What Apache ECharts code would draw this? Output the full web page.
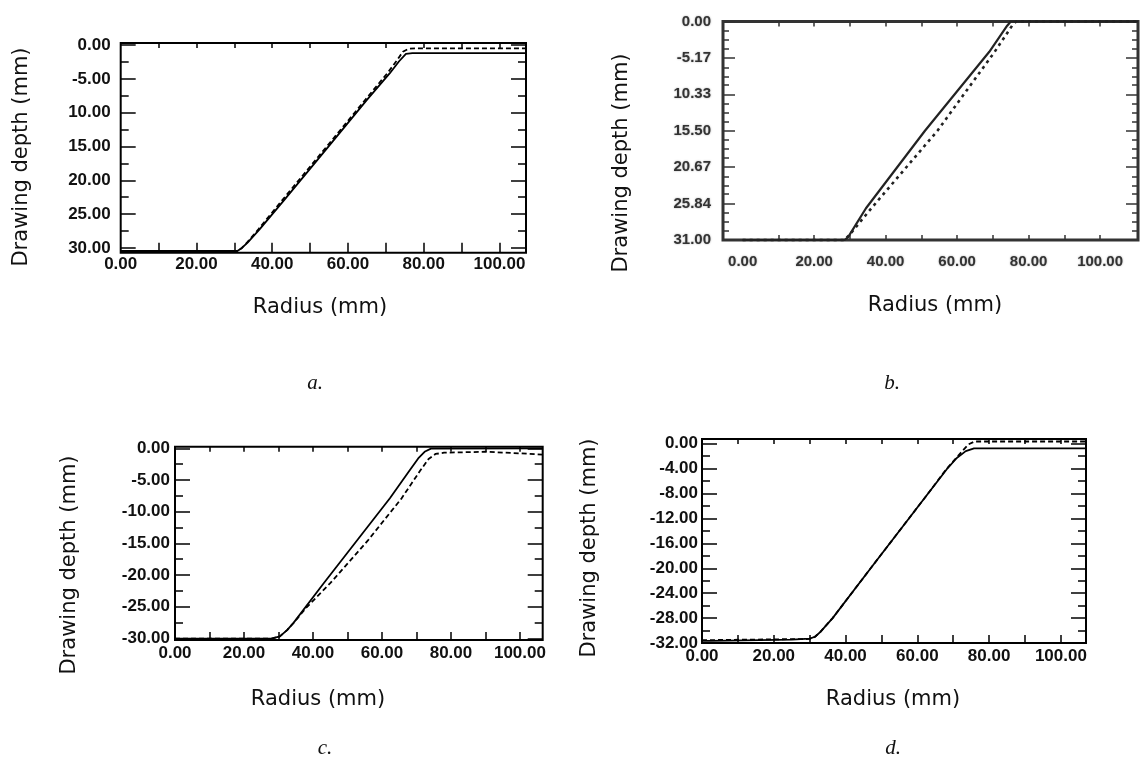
<!DOCTYPE html>
<html>
<head>
<meta charset="utf-8">
<script src="https://cdn.jsdelivr.net/npm/echarts@6/dist/echarts.min.js"></script>
<style>html,body{margin:0;padding:0;background:#fff;}#chart{width:1140px;height:760px;}</style>
</head>
<body>
<div id="chart"></div>
<script>
// ---------- data (radius mm, depth mm) ----------
var solidA  = [[0,-30.45],[30.8,-30.45],[32,-30],[33.5,-29.2],[36.6,-27.3],[43.2,-22.9],[55,-14.9],[65,-8.1],[71,-4.2],[73.5,-2.4],[75.3,-1.3],[77,-1.2],[107,-1.2]];
var dashedA = [[0,-30.55],[30.5,-30.55],[32,-30],[33.5,-29.1],[36.4,-27.2],[43,-22.7],[55,-14.6],[65,-7.8],[70.5,-4.1],[73,-2.2],[74.5,-1.0],[76,-0.55],[78,-0.5],[107,-0.5]];

var solidB  = [[0,-31],[28.5,-31],[29.5,-30.6],[34.5,-26.5],[51,-15.5],[69,-4.3],[74,-0.6],[75,0],[110.6,0]];
var dashedB = [[0,-31],[28.5,-31],[30,-30.2],[36,-26.5],[54.5,-15.5],[70.5,-4.3],[75.5,-0.5],[76.5,0],[110.6,0]];

var solidC  = [[0,-30.05],[28,-30.05],[30.4,-29.7],[32.5,-28.7],[34.3,-27.6],[43,-21.4],[52.7,-14.6],[62.3,-7.9],[68,-3.5],[70.5,-1.6],[72.5,-0.5],[74.2,-0.05],[106.6,0]];
var dashedC = [[0,-30.05],[28,-30.05],[30.4,-29.7],[32.5,-28.7],[34.5,-27.5],[38,-25.2],[45,-21.3],[56,-14.5],[65.7,-7.9],[71,-3.6],[73.5,-1.7],[75.5,-0.9],[78,-0.7],[90,-0.55],[100,-0.8],[106.6,-1.0]];

var solidD  = [[0,-31.65],[2.5,-31.65],[3,-31.45],[25,-31.45],[25.5,-31.3],[30,-31.3],[31.5,-31],[33,-30.2],[36.4,-28],[47,-20],[63,-8],[68.2,-4.1],[71,-2.3],[73.5,-1.2],[75.8,-0.75],[107,-0.75]];
var dashedD = [[0,-31.55],[30,-31.35],[31.5,-31],[33,-30.2],[36.4,-28],[47,-20],[63,-8],[67.8,-4.3],[70.5,-2.5],[72.5,-1.2],[74.3,-0.1],[76,0.35],[107,0.35]];

// ---------- tick labels ----------
var xLabelVals = [0,20,40,60,80,100];
var xTickVals  = [10,20,30,40,50,60,70,80,90,100];

var yValsA   = [0,-5,-10,-15,-20,-25,-30];
var yTextsA  = ['0.00','-5.00','10.00','15.00','20.00','25.00','30.00'];
var yMinorA  = [-2.5,-7.5,-12.5,-17.5,-22.5,-27.5];

var yValsB   = [0,-5.17,-10.33,-15.5,-20.67,-25.84,-31];
var yTextsB  = ['0.00','-5.17','10.33','15.50','20.67','25.84','31.00'];
var yMinorB  = [-1.3,-2.6,-3.9,-6.5,-7.8,-9.0,-11.6,-12.9,-14.2,-16.8,-18.1,-19.4,-22.0,-23.3,-24.5,-27.1,-28.4,-29.7];
var xTickValsB = [10,20,30,40,50,60,70,80,90,100];

var yValsC   = [0,-5,-10,-15,-20,-25,-30];
var yTextsC  = ['0.00','-5.00','-10.00','-15.00','-20.00','-25.00','-30.00'];
var yMinorC  = [-2.5,-7.5,-12.5,-17.5,-22.5,-27.5];

var yValsD   = [0,-4,-8,-12,-16,-20,-24,-28,-32];
var yTextsD  = ['0.00','-4.00','-8.00','-12.00','-16.00','-20.00','-24.00','-28.00','-32.00'];
var yMinorD  = [-2,-6,-10,-14,-18,-22,-26,-30];

var captions = ['a.','b.','c.','d.'];
var xTitle = 'Radius (mm)';
var yTitle = 'Drawing depth (mm)';

// ---------- layout / style ----------
var panels = [
  {left:120.7, top:43, right:526, bottom:252.7, xMin:0, xMax:107, yMin:-30.7, yMax:0.3,
   yVals:yValsA, yTexts:yTextsA, yMinor:yMinorA, xTicks:xTickVals, solid:solidA, dashed:dashedA,
   font:17, fontColor:'#111', xMargin:3, yMargin:10, major:15, minor:8, xTickB:10, xTickT:5,
   border:2, borderColor:'#000', lineColor:'#000', lw:1.8, dash:[5,3], dashW:1.8, blur:0,
   yT:[22,157], xT:[320,308], cap:[315,383]},
  {left:723, top:21.5, right:1138, bottom:240, xMin:-5.5, xMax:110.6, yMin:-31, yMax:0,
   yVals:yValsB, yTexts:yTextsB, yMinor:yMinorB, xTicks:xTickValsB, solid:solidB, dashed:dashedB,
   font:15, fontColor:'#333', xMargin:14, yMargin:12, major:12, minor:6, xTickB:5, xTickT:5,
   border:3, borderColor:'#333', lineColor:'#222', lw:2.2, dash:[3,4], dashW:2.6, blur:2,
   yT:[622,163], xT:[935,306], cap:[892,383]},
  {left:175, top:446.7, right:542.7, bottom:640, xMin:0, xMax:106.6, yMin:-30.27, yMax:0.25,
   yVals:yValsC, yTexts:yTextsC, yMinor:yMinorC, xTicks:xTickVals, solid:solidC, dashed:dashedC,
   font:17, fontColor:'#111', xMargin:5, yMargin:5, major:15, minor:8, xTickB:8, xTickT:5,
   border:2, borderColor:'#000', lineColor:'#000', lw:1.8, dash:[5,3], dashW:1.8, blur:0,
   yT:[70,565], xT:[318,700], cap:[325,748]},
  {left:702, top:439, right:1086, bottom:643, xMin:0, xMax:107, yMin:-32, yMax:0.75,
   yVals:yValsD, yTexts:yTextsD, yMinor:yMinorD, xTicks:xTickVals, solid:solidD, dashed:dashedD,
   font:17, fontColor:'#111', xMargin:5, yMargin:4, major:15, minor:8, xTickB:8, xTickT:5,
   border:2, borderColor:'#000', lineColor:'#000', lw:1.8, dash:[5,3], dashW:1.8, blur:0,
   yT:[590,548], xT:[893,700], cap:[893,748]}
];

var grids = [], xAxes = [], yAxes = [], series = [], graphics = [];
var noLine = {show:false, onZero:false};

panels.forEach(function(p, gi){
  grids.push({left:p.left, top:p.top, width:p.right-p.left, height:p.bottom-p.top,
    show:true, borderWidth:p.border, borderColor:p.borderColor, backgroundColor:'transparent'});
  var lblStyle = {fontFamily:'"Liberation Sans", Arial, sans-serif', fontWeight:'bold', fontSize:p.font, color:p.fontColor,
    textShadowColor: p.blur ? 'rgba(0,0,0,0.35)' : 'transparent', textShadowBlur:p.blur};
  var tickLine = {color:p.borderColor, width:1.5};
  var xi = xAxes.length;
  xAxes.push({gridIndex:gi, type:'value', position:'bottom', min:p.xMin, max:p.xMax,
    axisLine:noLine, splitLine:{show:false},
    axisTick:{show:true, inside:true, length:p.xTickB, customValues:p.xTicks, lineStyle:tickLine},
    axisLabel:Object.assign({show:true, margin:p.xMargin, customValues:xLabelVals,
      formatter:function(v){return v.toFixed(2);}}, lblStyle)});
  xAxes.push({gridIndex:gi, type:'value', position:'top', min:p.xMin, max:p.xMax,
    axisLine:noLine, splitLine:{show:false}, axisLabel:{show:false},
    axisTick:{show:true, inside:true, length:p.xTickT, customValues:p.xTicks, lineStyle:tickLine}});
  var yi = yAxes.length;
  var vals = p.yVals, texts = p.yTexts;
  yAxes.push({gridIndex:gi, type:'value', position:'left', min:p.yMin, max:p.yMax,
    axisLine:noLine, splitLine:{show:false},
    axisTick:{show:true, inside:true, length:p.major, customValues:vals, lineStyle:tickLine},
    axisLabel:Object.assign({show:true, margin:p.yMargin, customValues:vals,
      formatter:function(v){
        var best=0, d=1e9;
        for (var i=0;i<vals.length;i++){ var dd=Math.abs(vals[i]-v); if(dd<d){d=dd;best=i;} }
        return texts[best];
      }}, lblStyle)});
  yAxes.push({gridIndex:gi, type:'value', position:'left', min:p.yMin, max:p.yMax,
    axisLine:noLine, splitLine:{show:false}, axisLabel:{show:false},
    axisTick:{show:true, inside:true, length:p.minor, customValues:p.yMinor, lineStyle:tickLine}});
  yAxes.push({gridIndex:gi, type:'value', position:'right', min:p.yMin, max:p.yMax,
    axisLine:noLine, splitLine:{show:false}, axisLabel:{show:false},
    axisTick:{show:true, inside:true, length:p.major, customValues:vals, lineStyle:tickLine}});
  yAxes.push({gridIndex:gi, type:'value', position:'right', min:p.yMin, max:p.yMax,
    axisLine:noLine, splitLine:{show:false}, axisLabel:{show:false},
    axisTick:{show:true, inside:true, length:p.minor, customValues:p.yMinor, lineStyle:tickLine}});

  series.push({type:'line', xAxisIndex:xi, yAxisIndex:yi, data:p.dashed, showSymbol:false, clip:false,
    lineStyle:{color:p.lineColor, width:p.dashW, type:p.dash}, z:3, silent:true});
  series.push({type:'line', xAxisIndex:xi, yAxisIndex:yi, data:p.solid, showSymbol:false, clip:false,
    lineStyle:{color:p.lineColor, width:p.lw, type:'solid'}, z:4, silent:true});

  graphics.push({type:'text', x:p.yT[0], y:p.yT[1], rotation:Math.PI/2,
    style:{text:yTitle, align:'center', verticalAlign:'middle', fill:'#111',
      font:'21px "DejaVu Sans", sans-serif'}});
  graphics.push({type:'text', x:p.xT[0], y:p.xT[1],
    style:{text:xTitle, align:'center', verticalAlign:'middle', fill:'#111',
      font:'21px "DejaVu Sans", sans-serif'}});
  graphics.push({type:'text', x:p.cap[0], y:p.cap[1],
    style:{text:captions[gi], align:'center', verticalAlign:'middle', fill:'#111',
      font:'italic 21px "Liberation Serif", "Times New Roman", serif'}});
});

var chart = echarts.init(document.getElementById('chart'), null, {renderer:'canvas'});
chart.setOption({
  animation:false,
  backgroundColor:'#fff',
  grid:grids, xAxis:xAxes, yAxis:yAxes, series:series, graphic:graphics
});
</script>
</body>
</html>
